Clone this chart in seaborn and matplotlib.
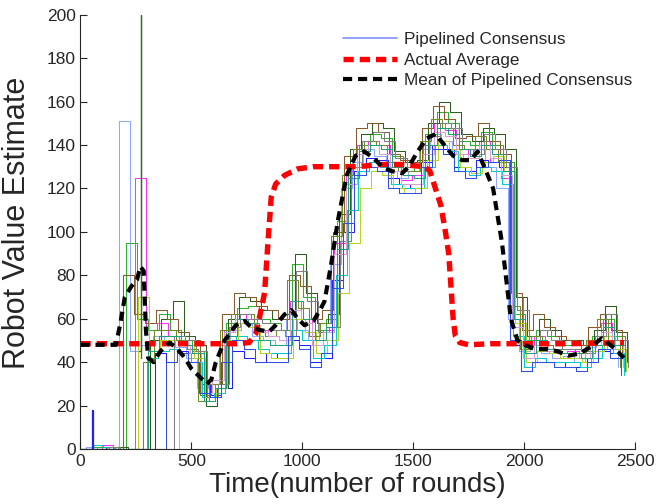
import pandas as pd
import seaborn as sns
import matplotlib.pyplot as plt
from matplotlib.lines import Line2D

# time grid of the robot estimates (rounds)
rounds = list(range(0, 2500, 50))
# each robot updates on its own schedule (rounds offset)
robot_shift = [-25, -5, -15, 5, 15, -10, 0, 10, -20, 20, -5, 5, -15]

# per-robot estimates, one value per 50 rounds
robots = {
    "r01": [0, 1, 0, 0, 151, 45, 48, 52, 50, 47, 42, 28, 30, 48, 55, 58, 52, 50, 48, 60, 55, 50, 58, 85, 120,
            132, 138, 135, 128, 125, 128, 138, 145, 142, 136, 134, 138, 130, 120, 60, 45, 48, 44, 42, 43, 40, 47, 50, 46, 38],
    "r02": [0, 0, 2, 0, 0, 125, 55, 58, 52, 48, 44, 26, 32, 55, 62, 60, 55, 52, 50, 68, 60, 48, 55, 95, 128,
            140, 142, 140, 130, 124, 126, 140, 150, 147, 138, 136, 142, 132, 125, 70, 48, 52, 46, 44, 45, 42, 48, 58, 50, 40],
    "r03": [0, 0, 0, 0, 0, 0, 0, 44, 40, 45, 40, 30, 25, 28, 45, 42, 40, 44, 42, 50, 48, 40, 42, 78, 100,
            128, 134, 133, 125, 122, 120, 132, 140, 138, 130, 128, 133, 132, 130, 48, 36, 40, 40, 40, 38, 38, 42, 45, 44, 36],
    "r04": [0, 1, 1, 0, 95, 60, 55, 62, 55, 50, 45, 22, 30, 58, 65, 66, 60, 58, 55, 85, 70, 55, 60, 105, 130,
            140, 145, 143, 135, 128, 130, 145, 155, 150, 142, 140, 146, 140, 132, 62, 50, 55, 52, 48, 48, 45, 52, 60, 52, 36],
    "r05": [0, 0, 1, 1, 0, 0, 50, 60, 68, 52, 48, 20, 28, 60, 70, 68, 64, 60, 62, 90, 72, 58, 62, 108, 138,
            145, 150, 148, 137, 132, 133, 150, 160, 155, 145, 142, 148, 145, 138, 70, 52, 60, 55, 50, 50, 48, 55, 66, 54, 40],
    "r06": [0, 0, 0, 0, 80, 62, 58, 64, 60, 54, 50, 25, 30, 62, 72, 70, 66, 64, 60, 80, 75, 60, 64, 100, 135,
            148, 150, 146, 136, 133, 132, 148, 158, 152, 143, 144, 150, 142, 136, 72, 55, 62, 56, 52, 50, 48, 56, 62, 55, 42],
    "r07": [0, 2, 1, 0, 0, 0, 42, 45, 46, 44, 40, 24, 26, 48, 52, 50, 46, 44, 44, 55, 50, 42, 48, 80, 110,
            128, 132, 130, 122, 120, 120, 130, 140, 137, 128, 126, 130, 128, 122, 52, 38, 42, 40, 40, 40, 38, 42, 48, 44, 34],
    "r08": [0, 0, 0, 0, 0, 70, 45, 50, 50, 48, 42, 24, 28, 50, 58, 56, 44, 42, 42, 60, 54, 44, 50, 72, 95,
            120, 128, 126, 120, 118, 120, 133, 142, 138, 130, 127, 132, 135, 128, 58, 40, 45, 44, 42, 42, 40, 45, 52, 46, 36],
    "r09": [0, 0, 0, 1, 0, 0, 40, 55, 55, 50, 46, 22, 30, 55, 62, 62, 55, 52, 55, 78, 65, 52, 58, 98, 126,
            138, 142, 140, 132, 128, 128, 142, 152, 148, 140, 138, 144, 138, 132, 66, 46, 52, 48, 46, 46, 44, 50, 60, 50, 38],
    "r10": [0, 0, 1, 0, 0, 0, 0, 0, 52, 50, 45, 24, 30, 56, 62, 60, 58, 55, 52, 82, 68, 54, 56, 96, 130,
            142, 146, 142, 134, 130, 130, 144, 150, 148, 138, 136, 145, 138, 130, 64, 48, 55, 50, 46, 46, 44, 52, 62, 50, 38],
    "r11": [0, 0, 0, 0, 0, 0, 0, 0, 0, 48, 44, 26, 32, 54, 60, 58, 54, 52, 50, 64, 58, 48, 54, 90, 122,
            136, 140, 136, 128, 122, 122, 136, 146, 144, 136, 134, 140, 134, 126, 56, 42, 48, 45, 44, 44, 42, 48, 54, 48, 38],
    "r12": [0, 0, 0, 0, 0, 0, 45, 52, 52, 48, 44, 22, 28, 52, 60, 58, 50, 48, 48, 68, 60, 50, 56, 92, 125,
            137, 140, 138, 130, 126, 125, 140, 148, 145, 138, 135, 140, 136, 128, 60, 44, 50, 46, 44, 44, 42, 48, 56, 48, 36],
    "r13": [0, 0, 0, 0, 0, 0, 0, 0, 40, 44, 40, 26, 24, 40, 50, 46, 40, 40, 40, 52, 46, 38, 44, 74, 104,
            126, 130, 128, 120, 118, 118, 130, 138, 136, 128, 125, 130, 132, 133, 50, 36, 40, 40, 38, 38, 36, 40, 46, 42, 34],
}
robot_colors = ["#8fa8ff", "#ff30ff", "#1f1fff", "#30b030", "#2e5e1e", "#8b5a2b", "#00cccc",
                "#b5d320", "#6b8e23", "#808080", "#d8a0d8", "#20a080", "#3050e0"]

# two short spikes
spike_green_t = [265, 271, 274]
spike_green_v = [45, 200, 42]
spike_blue_t = [45, 52, 55]
spike_blue_v = [0, 18, 0]

actual_t = [0, 100, 200, 300, 400, 500, 600, 700, 760, 790, 810, 830, 845, 860, 880, 920, 980, 1050, 1150,
            1250, 1350, 1450, 1550, 1575, 1600, 1625, 1645, 1660, 1670, 1680, 1690, 1710, 1750, 1850, 2000, 2200, 2450]
actual_v = [48.5, 48.5, 48.5, 48.5, 48.5, 48.5, 48.5, 48.5, 49, 53, 62, 72, 95, 116, 122, 126, 129, 130, 130,
            130, 131, 131, 130, 128, 120, 112, 100, 90, 75, 60, 52, 49, 48, 48.5, 48.5, 48.5, 49]

mean_t = [0, 160, 180, 200, 230, 255, 270, 285, 295, 305, 330, 360, 400, 430, 470, 500, 540, 570, 590,
          610, 650, 700, 740, 770, 800, 850, 880, 920, 950, 980, 1010, 1050, 1080, 1100, 1130, 1160, 1200,
          1240, 1280, 1320, 1360, 1400, 1450, 1480, 1520, 1560, 1600, 1640, 1680, 1720, 1760, 1790, 1820,
          1860, 1900, 1940, 1970, 2000, 2050, 2100, 2150, 2200, 2250, 2300, 2350, 2400, 2450]
mean_v = [48, 48, 58, 70, 75, 78, 84, 82, 55, 42, 40, 45, 49, 47, 42, 37, 33, 30, 32,
          40, 50, 57, 59, 56, 55, 54, 57, 62, 64, 60, 57, 59, 64, 68, 85, 105, 126,
          135, 137, 134, 130, 128, 127, 130, 137, 143, 145, 140, 135, 133, 133, 137, 130,
          120, 95, 60, 50, 48, 46, 46, 45, 43, 44, 47, 51, 47, 42]

df = pd.concat([pd.DataFrame({"t": [r + shift for r in rounds], "v": vals, "robot": name})
                for (name, vals), shift in zip(robots.items(), robot_shift)])

sns.set_style("ticks")
plt.rcParams["font.family"] = ["Liberation Sans", "DejaVu Sans"]

fig = plt.figure(figsize=(6.65, 5.04), dpi=100)
ax = fig.add_axes([0.121, 0.109, 0.834, 0.862])

sns.lineplot(data=df, x="t", y="v", hue="robot", palette=robot_colors, drawstyle="steps-post",
             lw=0.75, legend=False, estimator=None, errorbar=None, ax=ax)
sns.lineplot(x=spike_green_t, y=spike_green_v, drawstyle="steps-post", color="#2e6e1e", lw=0.9,
             estimator=None, errorbar=None, ax=ax)
sns.lineplot(x=spike_blue_t, y=spike_blue_v, drawstyle="steps-post", color="#1f1fff", lw=0.9,
             estimator=None, errorbar=None, ax=ax)
red_ls = (0, (1.9, 1.1))
black_ls = (0, (2.2, 1.4))
sns.lineplot(x=actual_t, y=actual_v, color="red", lw=3.9, linestyle=red_ls,
             estimator=None, errorbar=None, ax=ax)
sns.lineplot(x=mean_t, y=mean_v, color="black", lw=3.0, linestyle=black_ls,
             estimator=None, errorbar=None, ax=ax)

handles = [Line2D([], [], color="#8090ff", lw=1.2),
           Line2D([], [], color="red", lw=3.9, linestyle=red_ls),
           Line2D([], [], color="black", lw=3.0, linestyle=black_ls)]
ax.legend(handles, ["Pipelined Consensus", "Actual Average", "Mean of Pipelined Consensus"],
          loc="upper left", bbox_to_anchor=(0.445, 0.995), frameon=False, fontsize=12.3,
          handlelength=3.2, handletextpad=0.4, labelspacing=0.33)

ax.set_xlim(0, 2500)
ax.set_ylim(0, 200)
ax.set_xticks(range(0, 2501, 500))
ax.set_yticks(range(0, 201, 20))
ax.tick_params(direction="in", labelsize=12.5, length=5, width=0.8)
ax.set_xlabel("Time(number of rounds)", fontsize=20, labelpad=2)
ax.set_ylabel("Robot Value Estimate", fontsize=22, labelpad=1)
ax.yaxis.set_label_coords(-0.088, 0.52)
sns.despine(ax=ax)

fig.savefig("out.png", dpi=100)
